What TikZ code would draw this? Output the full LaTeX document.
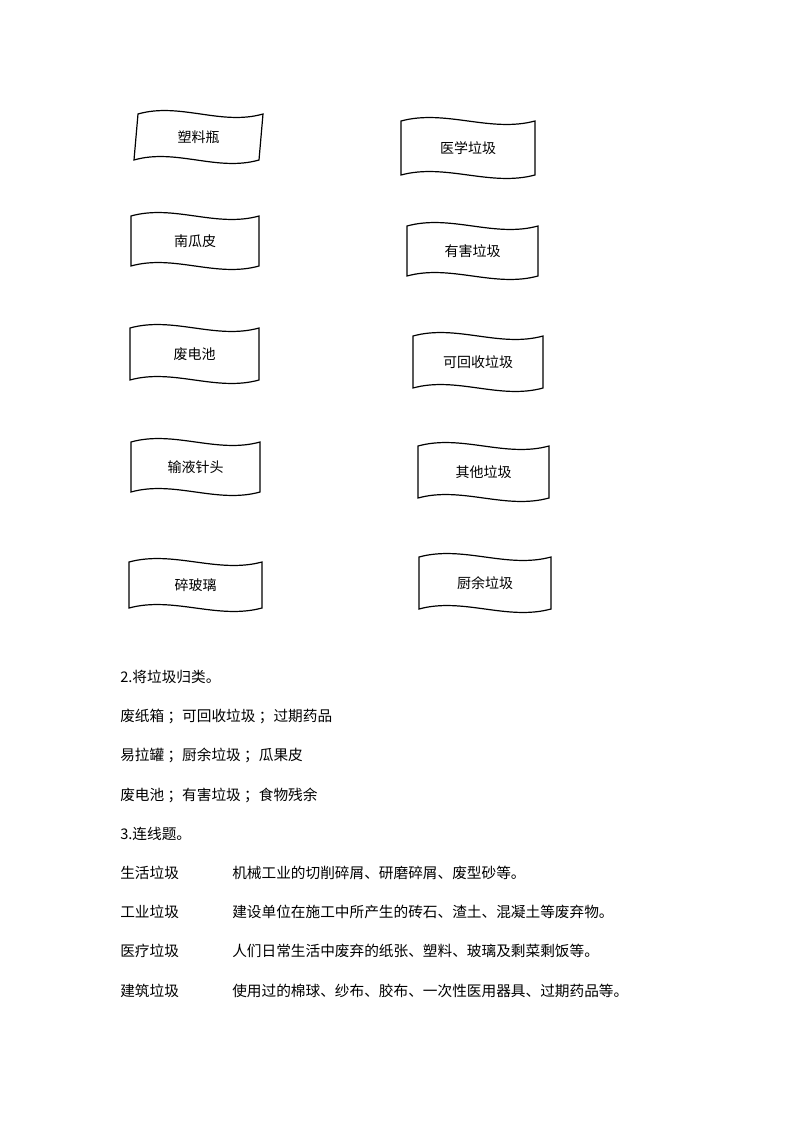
\documentclass[tikz,border=0pt]{standalone}
\usepackage{fontspec}
\setmainfont{Noto Sans CJK SC}
\newcommand\wavebox[7]{% name, x, y, w, h, skew, text
  \draw[wv] ({#2+#6},#3) .. controls ({#2+#6+#4/3},{#3-12}) and ({#2+#6+2*#4/3},{#3+12}) .. ({#2+#6+#4},#3)
    -- ({#2+#4},{#3+#5}) .. controls ({#2+2*#4/3},{#3+#5+12}) and ({#2+#4/3},{#3+#5-12}) .. (#2,{#3+#5}) -- cycle;
  \node[lbl] (#1) at ({#2+#4/2+#6/2},{#3+#5/2}) {#7};}
\begin{document}
\begin{tikzpicture}[x=0.75pt,y=-0.75pt,
  wv/.style={draw=black,line width=0.9pt},
  lbl/.style={font=\fontsize{10.5pt}{12pt}\selectfont,inner sep=0pt},
  txt/.style={font=\fontsize{11pt}{13pt}\selectfont,anchor=west,inner sep=0pt}]
\useasboundingbox (0,0) rectangle (794,1123);
\wavebox{a1}{134}{114}{125}{46}{4}{塑料瓶}
\wavebox{a2}{131}{216}{128}{50}{0}{南瓜皮}
\wavebox{a3}{130}{328}{129}{52}{0}{废电池}
\wavebox{a4}{131}{442}{129}{50}{0}{输液针头}
\wavebox{a5}{129}{562}{133}{46}{0}{碎玻璃}
\wavebox{b1}{401}{121}{134}{54}{0}{医学垃圾}
\wavebox{b2}{407}{226}{131}{50}{0}{有害垃圾}
\wavebox{b3}{413}{336}{130}{52}{0}{可回收垃圾}
\wavebox{b4}{418}{446}{131}{52}{0}{其他垃圾}
\wavebox{b5}{419}{557}{132}{52}{0}{厨余垃圾}
\node[txt] (t1) at (120,677) {2.将垃圾归类。};
\node[txt] (t2) at (120,716) {废纸箱 ；可回收垃圾 ；过期药品};
\node[txt] (t3) at (120,755) {易拉罐 ；厨余垃圾 ；瓜果皮};
\node[txt] (t4) at (120,795) {废电池 ；有害垃圾 ；食物残余};
\node[txt] (t5) at (120,834) {3.连线题。};
\node[txt] (c1) at (120,873) {生活垃圾};
\node[txt] (c2) at (120,912) {工业垃圾};
\node[txt] (c3) at (120,951) {医疗垃圾};
\node[txt] (c4) at (120,991) {建筑垃圾};
\node[txt] (d1) at (232,873) {机械工业的切削碎屑、研磨碎屑、废型砂等。};
\node[txt] (d2) at (232,912) {建设单位在施工中所产生的砖石、渣土、混凝土等废弃物。};
\node[txt] (d3) at (232,951) {人们日常生活中废弃的纸张、塑料、玻璃及剩菜剩饭等。};
\node[txt] (d4) at (232,991) {使用过的棉球、纱布、胶布、一次性医用器具、过期药品等。};
\end{tikzpicture}
\end{document}
